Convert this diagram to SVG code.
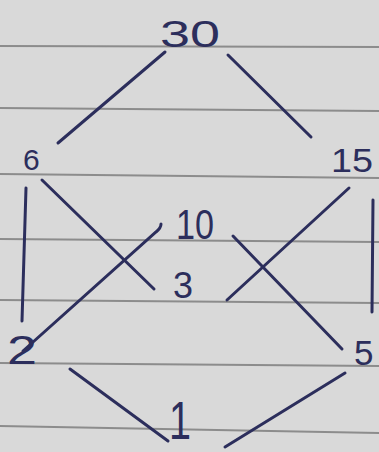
<svg xmlns="http://www.w3.org/2000/svg" width="379" height="452" viewBox="0 0 379 452">
<style>
.rule{stroke:#8c8c8c;stroke-width:2;fill:none}
.edge{stroke:#2c2e5c;stroke-width:3;stroke-linecap:round;fill:none}
.lbl{font-family:"Liberation Sans",Arial,sans-serif;fill:#2c2e5c}
</style>
<rect width="379" height="452" fill="#d9d9d9"/>
<g id="paper">
<line class="rule" x1="0" y1="46" x2="379" y2="47"/>
<line class="rule" x1="0" y1="108" x2="379" y2="111"/>
<line class="rule" x1="0" y1="174" x2="379" y2="178"/>
<line class="rule" x1="0" y1="239" x2="379" y2="242"/>
<line class="rule" x1="0" y1="300" x2="379" y2="303"/>
<line class="rule" x1="0" y1="363" x2="379" y2="366"/>
<line class="rule" x1="0" y1="426" x2="379" y2="433"/>
</g>
<g id="connectors">
<line class="edge" x1="165" y1="52" x2="58" y2="143"/>
<line class="edge" x1="228" y1="55" x2="311" y2="137"/>
<line class="edge" x1="42" y1="180" x2="154" y2="289"/>
<line class="edge" x1="26" y1="188" x2="22" y2="321"/>
<line class="edge" x1="373" y1="200" x2="372" y2="312"/>
<line class="edge" x1="349" y1="188" x2="227" y2="300"/>
<path class="edge" d="M23 351 L156 232 Q161 228 161 224"/>
<line class="edge" x1="233" y1="236" x2="342" y2="349"/>
<line class="edge" x1="70" y1="369" x2="168" y2="441"/>
<line class="edge" x1="345" y1="373" x2="225" y2="447"/>
</g>
<g id="n30"><text class="lbl" x="160" y="47" font-size="36" textLength="60" lengthAdjust="spacingAndGlyphs">30</text></g>
<g id="n6"><text class="lbl" x="23" y="170" font-size="30">6</text></g>
<g id="n15"><text class="lbl" x="331" y="172" font-size="34" textLength="42" lengthAdjust="spacingAndGlyphs">15</text></g>
<g id="n10"><text class="lbl" x="176" y="239" font-size="42" textLength="38" lengthAdjust="spacingAndGlyphs">10</text></g>
<g id="n3"><text class="lbl" x="173" y="298" font-size="36">3</text></g>
<g id="n2"><text class="lbl" x="7" y="364" font-size="40" textLength="30" lengthAdjust="spacingAndGlyphs">2</text></g>
<g id="n5"><text class="lbl" x="354" y="365" font-size="35">5</text></g>
<g id="n1"><text class="lbl" x="169" y="439" font-size="54" textLength="22" lengthAdjust="spacingAndGlyphs">1</text></g>
</svg>
